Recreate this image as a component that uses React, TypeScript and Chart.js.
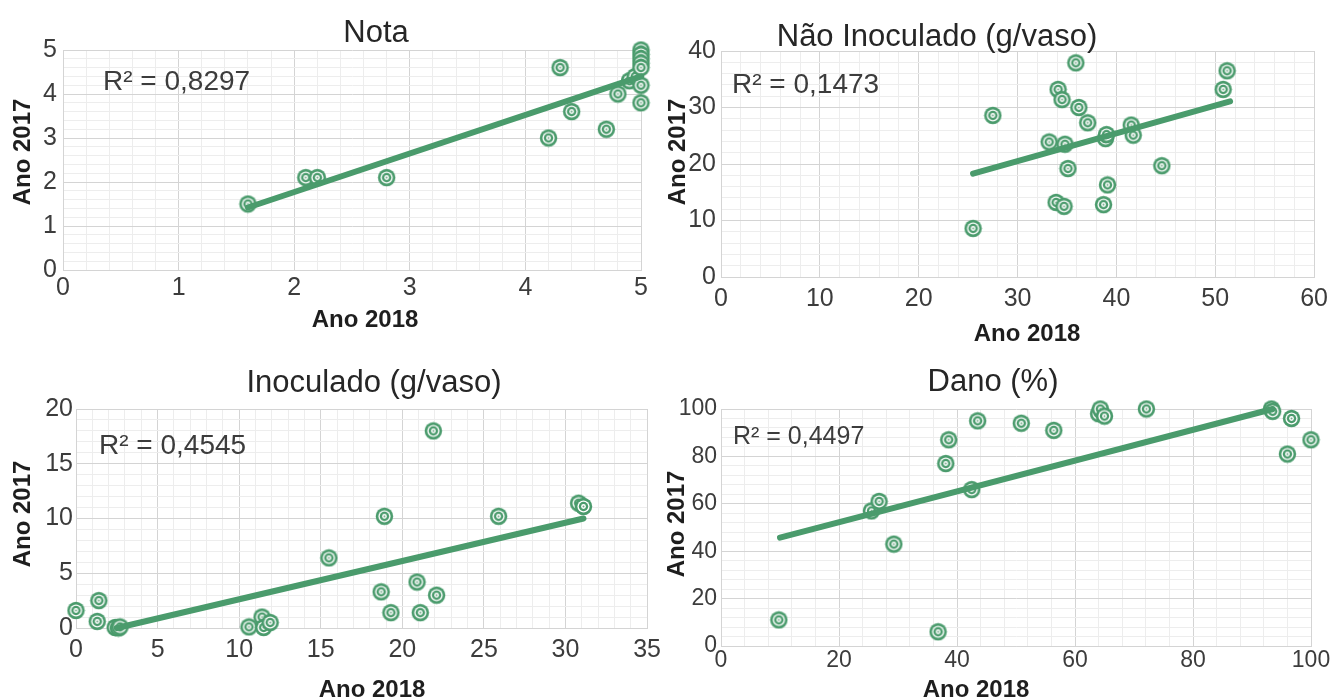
import React, { useEffect, useRef } from 'react';
import { Chart, registerables } from 'chart.js';

Chart.register(...registerables);

// ---------------- DATA ----------------
// Nota
const notaX = [1.6, 2.1, 2.2, 2.8, 4.2, 4.3, 4.4, 4.7, 4.8, 4.9, 4.95, 5, 5, 5, 5, 5, 5, 5];
const notaY = [1.5, 2.1, 2.1, 2.1, 3.0, 4.6, 3.6, 3.2, 4.0, 4.3, 4.4, 4.2, 3.8, 5.0, 4.9, 4.8, 4.7, 4.6];
const notaTrendX = [1.6, 5];
const notaTrendY = [1.42, 4.4];
const notaR2 = 'R² = 0,8297';

// Não Inoculado (g/vaso)
const naoX = [25.5, 27.5, 33.2, 33.9, 34.1, 34.5, 34.7, 34.8, 35.1, 35.9, 36.2, 37.1, 38.7, 38.9, 39.0, 39.1, 41.5, 41.7, 44.6, 50.8, 51.2];
const naoY = [8.6, 28.6, 23.9, 13.2, 33.2, 31.4, 12.5, 23.5, 19.2, 37.9, 30.0, 27.3, 12.8, 24.5, 25.2, 16.3, 26.9, 25.1, 19.7, 33.2, 36.5];
const naoTrendX = [25.5, 51.5];
const naoTrendY = [18.3, 31.1];
const naoR2 = 'R² = 0,1473';

// Inoculado (g/vaso)
const inoX = [0, 1.3, 1.4, 2.4, 2.6, 2.7, 10.6, 11.4, 11.5, 11.9, 15.5, 18.7, 18.9, 19.3, 20.9, 21.1, 21.9, 22.1, 25.9, 30.8, 31.1];
const inoY = [1.6, 0.6, 2.5, 0.05, 0.0, 0.1, 0.1, 1.0, 0.05, 0.5, 6.4, 3.3, 10.2, 1.4, 4.2, 1.4, 18.0, 3.0, 10.2, 11.4, 11.1];
const inoTrendX = [2.5, 31.1];
const inoTrendY = [0, 10];
const inoR2 = 'R² = 0,4545';

// Dano (%)
const danoX = [9.8, 25.5, 26.8, 29.3, 36.8, 38.1, 38.6, 42.5, 43.5, 50.9, 56.4, 64.0, 64.3, 65.0, 72.1, 93.3, 93.5, 96.0, 96.7, 100];
const danoY = [11, 57, 61, 43, 6, 77, 87, 66, 95, 94, 91, 98, 100, 97, 100, 100, 99, 81, 96, 87];
const danoTrendX = [10, 93.5];
const danoTrendY = [45.7, 100];
const danoR2 = 'R² = 0,4497';

// axis ranges: [min, max, major step, minor step]
const notaXAxis = [0, 5, 1, 0.2];
const notaYAxis = [0, 5, 1, 0.2];
const naoXAxis = [0, 60, 10, 2];
const naoYAxis = [0, 40, 10, 2];
const inoXAxis = [0, 35, 5, 1];
const inoYAxis = [0, 20, 5, 1];
const danoXAxis = [0, 100, 20, 4];
const danoYAxis = [0, 100, 20, 4];

const titles = ['Nota', 'Não Inoculado (g/vaso)', 'Inoculado (g/vaso)', 'Dano (%)'];
const xTitle = 'Ano 2018';
const yTitle = 'Ano 2017';

// ---------------- STYLE ----------------
const GREEN = '#4a9b6c';
const SANS = "'Liberation Sans', Arial, sans-serif";
const NARROW = "'Liberation Sans Narrow', 'Liberation Sans', Arial, sans-serif";

function makeMarker(): HTMLCanvasElement {
  const c = document.createElement('canvas');
  c.width = 19;
  c.height = 19;
  const g = c.getContext('2d')!;
  const circ = (r: number, col: string) => {
    g.beginPath();
    g.arc(9.5, 9.5, r, 0, Math.PI * 2);
    g.fillStyle = col;
    g.fill();
  };
  circ(8.7, GREEN);
  circ(6.1, '#ffffff');
  circ(4.7, GREEN);
  circ(2.4, '#ffffff');
  circ(1.0, '#6fa585');
  return c;
}

const textPlugin = {
  id: 'texts',
  afterDraw(chart: any, _args: any, opts: any) {
    const ctx = chart.ctx;
    for (const it of opts.items || []) {
      ctx.save();
      ctx.font = it.font;
      ctx.fillStyle = it.color;
      ctx.textAlign = it.align;
      ctx.textBaseline = it.baseline;
      ctx.translate(it.x, it.y);
      if (it.rot) ctx.rotate(it.rot);
      ctx.fillText(it.text, 0, 0);
      ctx.restore();
    }
  },
};

type Spec = {
  box: [number, number, number, number];
  plot: [number, number, number, number];
  xs: number[];
  ys: number[];
  tx: number[];
  ty: number[];
  xAxis: number[];
  yAxis: number[];
  tickFont: { family: string; size: number };
  xPad: number;
  yPad: number;
  title: string;
  titlePos: [number, number];
  r2: string;
  r2Pos: [number, number];
  r2Size: number;
  xTitlePos: [number, number];
  yTitlePos: [number, number];
};

function scaleCfg(axis: number[], font: any, pad: number, fit: (s: any) => void) {
  const [min, max, major, minor] = axis;
  const isMajor = (v: number) => Math.abs(v / major - Math.round(v / major)) < 1e-6;
  return {
    type: 'linear',
    min,
    max,
    ticks: {
      stepSize: minor,
      autoSkip: false,
      padding: pad,
      maxRotation: 0,
      minRotation: 0,
      font,
      color: '#3c3c3c',
      callback: (v: any) => (isMajor(Number(v)) ? String(Math.round(Number(v))) : ''),
    },
    grid: {
      drawTicks: false,
      lineWidth: 1,
      color: (ctx: any) => (ctx.tick && isMajor(ctx.tick.value) ? '#d4d4d4' : '#ededed'),
    },
    border: { display: true, color: '#d4d4d4' },
    afterFit: fit,
  };
}

function Panel({ spec }: { spec: Spec }) {
  const ref = useRef<HTMLCanvasElement>(null);
  useEffect(() => {
    const [cx, cy, cw, ch] = spec.box;
    const [L, T, R, B] = spec.plot;
    const marker = makeMarker();
    const pts = spec.xs.map((x, i) => ({ x, y: spec.ys[i] }));
    const trend = spec.tx.map((x, i) => ({ x, y: spec.ty[i] }));
    const items = [
      { text: spec.title, x: spec.titlePos[0] - cx, y: spec.titlePos[1] - cy, font: `31px ${SANS}`, color: '#262626', align: 'center', baseline: 'alphabetic' },
      { text: spec.r2, x: spec.r2Pos[0] - cx, y: spec.r2Pos[1] - cy, font: `${spec.r2Size}px ${SANS}`, color: '#3c3c3c', align: 'left', baseline: 'alphabetic' },
      { text: xTitle, x: spec.xTitlePos[0] - cx, y: spec.xTitlePos[1] - cy, font: `bold 24px ${SANS}`, color: '#1e1e1e', align: 'center', baseline: 'alphabetic' },
      { text: yTitle, x: spec.yTitlePos[0] - cx, y: spec.yTitlePos[1] - cy, font: `bold 24px ${SANS}`, color: '#1e1e1e', align: 'center', baseline: 'middle', rot: -Math.PI / 2 },
    ];
    const chart = new Chart(ref.current!, {
      type: 'scatter',
      data: {
        datasets: [
          {
            data: trend,
            showLine: true,
            borderColor: GREEN,
            borderWidth: 6,
            borderCapStyle: 'round',
            pointRadius: 0,
            clip: false,
          } as any,
          {
            data: pts,
            pointStyle: marker,
            pointRadius: 9,
            showLine: false,
            clip: false,
          } as any,
        ],
      },
      options: {
        animation: false,
        responsive: false,
        devicePixelRatio: 1,
        events: [],
        layout: { padding: { left: 0, top: T - cy, right: cx + cw - R, bottom: 0 } },
        plugins: {
          legend: { display: false },
          tooltip: { enabled: false },
          texts: { items },
        } as any,
        scales: {
          x: scaleCfg(spec.xAxis, spec.tickFont, spec.xPad, (s: any) => { s.height = cy + ch - B; }) as any,
          y: scaleCfg(spec.yAxis, spec.tickFont, spec.yPad, (s: any) => { s.width = L - cx; }) as any,
        },
      },
      plugins: [textPlugin as any],
    });
    return () => chart.destroy();
  }, [spec]);
  const [cx, cy, cw, ch] = spec.box;
  return (
    <canvas
      ref={ref}
      width={cw}
      height={ch}
      style={{ position: 'absolute', left: cx, top: cy, width: cw, height: ch }}
    />
  );
}

const regular = { family: SANS, size: 25 };
const narrow = { family: NARROW, size: 23 };

const specs: Spec[] = [
  {
    box: [0, 0, 668, 345], plot: [63, 50, 641, 270],
    xs: notaX, ys: notaY, tx: notaTrendX, ty: notaTrendY,
    xAxis: notaXAxis, yAxis: notaYAxis, tickFont: regular, xPad: 3, yPad: 6,
    title: titles[0], titlePos: [376, 42], r2: notaR2, r2Pos: [103, 90], r2Size: 28,
    xTitlePos: [365, 327], yTitlePos: [23, 152],
  },
  {
    box: [655, 0, 680, 345], plot: [721, 51, 1317, 277],
    xs: naoX, ys: naoY, tx: naoTrendX, ty: naoTrendY,
    xAxis: naoXAxis, yAxis: naoYAxis, tickFont: regular, xPad: 7, yPad: 5,
    title: titles[1], titlePos: [937, 46], r2: naoR2, r2Pos: [732, 93], r2Size: 28,
    xTitlePos: [1027, 341], yTitlePos: [678, 152],
  },
  {
    box: [0, 345, 668, 354], plot: [76, 409, 649, 628],
    xs: inoX, ys: inoY, tx: inoTrendX, ty: inoTrendY,
    xAxis: inoXAxis, yAxis: inoYAxis, tickFont: regular, xPad: 7, yPad: 3,
    title: titles[2], titlePos: [374, 392], r2: inoR2, r2Pos: [99, 454], r2Size: 28,
    xTitlePos: [372, 697], yTitlePos: [23, 514],
  },
  {
    box: [655, 345, 680, 354], plot: [721, 409, 1311, 646],
    xs: danoX, ys: danoY, tx: danoTrendX, ty: danoTrendY,
    xAxis: danoXAxis, yAxis: danoYAxis, tickFont: narrow, xPad: 1, yPad: 4,
    title: titles[3], titlePos: [993, 391], r2: danoR2, r2Pos: [733, 444], r2Size: 25,
    xTitlePos: [976, 697], yTitlePos: [677, 524],
  },
];

export default function App() {
  return (
    <div style={{ position: 'absolute', left: 0, top: 0, width: 1335, height: 699, background: '#ffffff', overflow: 'hidden' }}>
      {specs.map((s, i) => (
        <Panel key={i} spec={s} />
      ))}
    </div>
  );
}
